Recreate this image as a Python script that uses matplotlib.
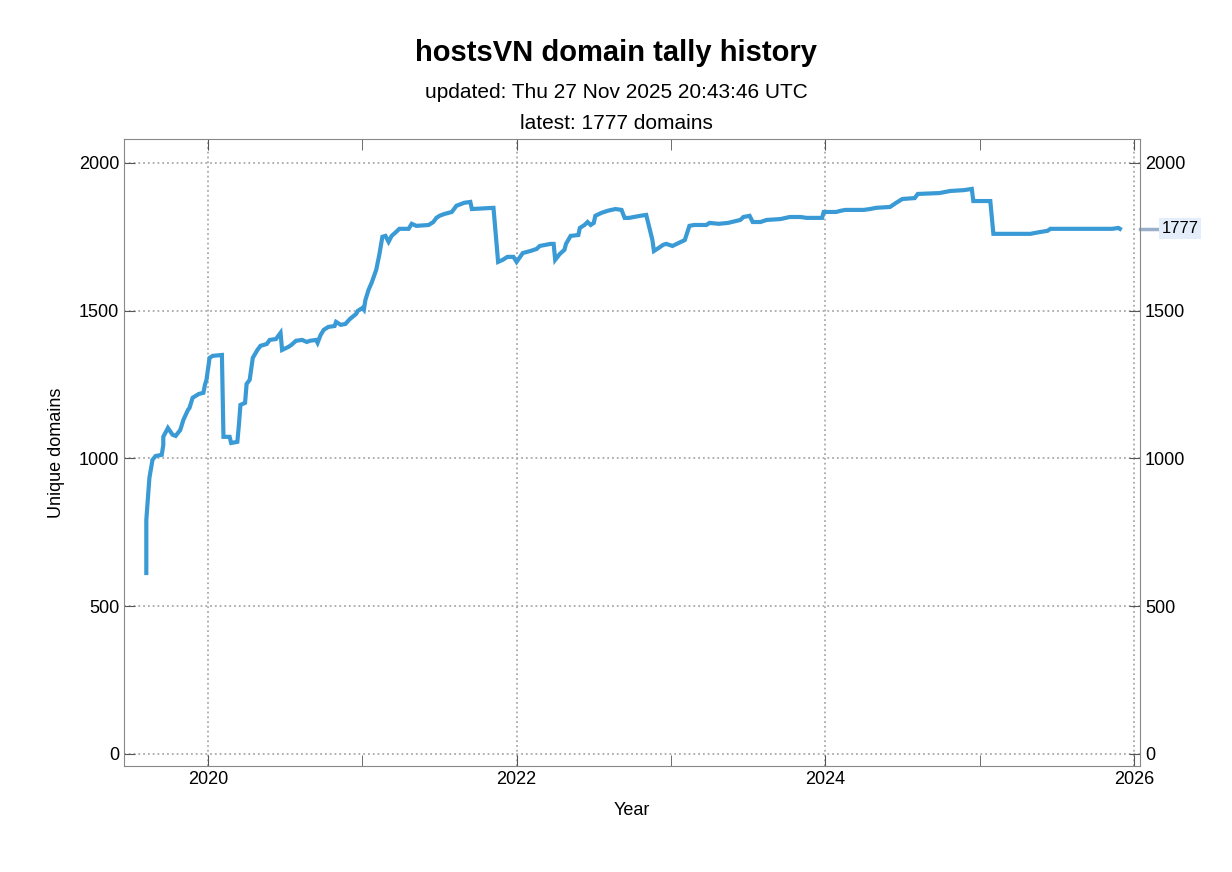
import matplotlib
matplotlib.use("Agg")
import matplotlib.pyplot as plt
plt.rcParams['font.family'] = ['Liberation Sans', 'DejaVu Sans']

years = [2019.60,2019.60,2019.62,2019.64,2019.66,2019.70,2019.71,2019.71,2019.74,2019.77,2019.79,2019.82,2019.84,2019.87,2019.88,2019.90,2019.94,2019.97,2019.98,2019.99,
 2020.01,2020.03,2020.09,2020.10,2020.14,2020.15,2020.19,2020.20,2020.21,2020.24,2020.25,2020.27,2020.29,2020.32,2020.34,2020.38,2020.40,2020.44,2020.47,2020.48,
 2020.52,2020.54,2020.57,2020.61,2020.64,2020.66,2020.70,2020.71,2020.73,2020.75,2020.78,2020.82,2020.83,2020.86,2020.89,2020.92,2020.96,2020.97,2021.00,2021.01,
 2021.02,2021.04,2021.06,2021.09,2021.11,2021.13,2021.15,2021.17,2021.19,2021.22,2021.24,2021.30,2021.32,2021.35,2021.43,2021.46,2021.48,2021.50,2021.53,2021.58,
 2021.61,2021.66,2021.70,2021.71,2021.84,2021.85,2021.88,2021.91,2021.94,2021.98,2022.00,2022.04,2022.09,2022.13,2022.15,2022.22,2022.24,2022.25,2022.28,2022.31,
 2022.32,2022.35,2022.40,2022.41,2022.44,2022.46,2022.48,2022.50,2022.51,2022.55,2022.59,2022.64,2022.68,2022.70,2022.73,2022.80,2022.84,2022.88,2022.89,2022.92,
 2022.95,2022.97,2023.01,2023.05,2023.09,2023.12,2023.15,2023.23,2023.25,2023.31,2023.37,2023.45,2023.47,2023.51,2023.53,2023.58,2023.62,2023.71,2023.77,2023.84,
 2023.88,2023.98,2023.99,2024.07,2024.10,2024.13,2024.25,2024.29,2024.33,2024.42,2024.46,2024.50,2024.58,2024.60,2024.74,2024.81,2024.90,2024.95,2024.96,2025.07,
 2025.09,2025.20,2025.33,2025.39,2025.44,2025.46,2025.65,2025.78,2025.86,2025.90,2025.91]
domains = [612,792,934,995,1008,1012,1045,1073,1103,1080,1076,1096,1130,1164,1171,1205,1218,1222,1249,1266,
 1340,1347,1350,1073,1073,1052,1056,1113,1181,1188,1252,1266,1340,1367,1381,1387,1401,1404,1425,1367,
 1377,1384,1398,1401,1394,1398,1401,1391,1418,1435,1445,1448,1462,1452,1455,1472,1489,1499,1509,1503,
 1536,1570,1594,1638,1689,1750,1753,1733,1753,1767,1777,1777,1794,1787,1790,1800,1814,1821,1827,1834,
 1855,1865,1868,1844,1848,1848,1665,1672,1682,1682,1665,1695,1702,1709,1719,1726,1726,1672,1692,1706,
 1726,1753,1756,1780,1790,1800,1790,1797,1821,1831,1838,1844,1841,1814,1814,1821,1824,1739,1702,1712,
 1723,1726,1719,1729,1739,1787,1790,1790,1797,1794,1797,1807,1817,1821,1800,1800,1807,1810,1817,1817,
 1814,1814,1834,1834,1838,1841,1841,1844,1848,1851,1865,1878,1881,1895,1898,1905,1908,1912,1871,1871,
 1760,1760,1760,1766,1770,1777,1777,1777,1777,1780,1777]
latest = 1777
major_years = [2020, 2022, 2024, 2026]
minor_years = [2021, 2023, 2025]
yticks = [0, 500, 1000, 1500, 2000]

fig = plt.figure(figsize=(12.32, 8.72), dpi=100)
ax = fig.add_axes([0.1006, 0.1216, 0.8247, 0.719])
ax.plot(years, domains, color='#3a9ad6', lw=3, solid_joinstyle='miter')
ax.set_xlim(2019.455, 2026.04)
ax.set_ylim(-41, 2081)
ax.set_xticks(major_years)
ax.set_xticks(minor_years, minor=True)
ax.set_yticks(yticks)
ax.grid(True, which='major', ls=':', color='#aaaaaa', lw=1.3)
ax.tick_params(direction='in', which='both', top=True, right=True, labelright=True, labelsize=13, color='#555555')
ax.tick_params(which='major', length=8)
ax.tick_params(which='minor', length=8)
for s in ax.spines.values():
    s.set_color('#888888')
ax.set_xlabel('Year', fontsize=13, labelpad=10)
ax.set_ylabel('Unique domains', fontsize=13, labelpad=10)
ax.plot([2026.04, 2026.15], [latest, latest], color='#9ab0c8', lw=2.5, clip_on=False)
ax.text(2026.18, latest, str(latest), va='center', ha='left', fontsize=12,
        bbox=dict(facecolor='#e3eefa', edgecolor='none', pad=2), clip_on=False)
fig.text(0.5, 0.93, 'hostsVN domain tally history', ha='center', fontsize=21, fontweight='bold')
fig.text(0.5, 0.888, 'updated: Thu 27 Nov 2025 20:43:46 UTC', ha='center', fontsize=15)
fig.text(0.5, 0.852, 'latest: 1777 domains', ha='center', fontsize=15)
fig.savefig('out.png', dpi=100)
